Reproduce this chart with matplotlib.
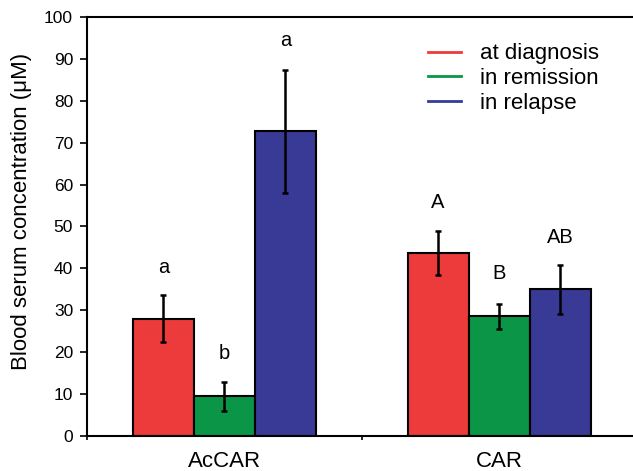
import matplotlib
matplotlib.use("Agg")
import matplotlib.pyplot as plt
import numpy as np
from matplotlib.lines import Line2D

plt.rcParams['font.family'] = ['Liberation Sans', 'DejaVu Sans']

groups = ["AcCAR", "CAR"]
series = ["at diagnosis", "in remission", "in relapse"]
values = {
    "at diagnosis": [28.0, 43.7],
    "in remission": [9.5, 28.6],
    "in relapse": [72.7, 35.0],
}
errors = {
    "at diagnosis": [5.6, 5.2],
    "in remission": [3.5, 3.0],
    "in relapse": [14.7, 5.8],
}
letters = {
    "at diagnosis": ["a", "A"],
    "in remission": ["b", "B"],
    "in relapse": ["a", "AB"],
}
letter_y = {
    "at diagnosis": [40.3, 55.8],
    "in remission": [19.8, 38.9],
    "in relapse": [94.5, 47.3],
}
colors = {"at diagnosis": "#EC3B3A", "in remission": "#0A9547", "in relapse": "#383A95"}

fig = plt.figure(figsize=(6.33, 4.71), dpi=100)
W, H = 633, 471
ax = fig.add_axes([87 / W, (H - 436) / H, 549.5 / W, (436 - 17) / H])

x = np.arange(len(groups))
bw = 0.222
for i, s in enumerate(series):
    xs = x + (i - 1) * bw
    ax.bar(xs, values[s], width=bw, color=colors[s], edgecolor="black", linewidth=1.5, zorder=2)
    ax.errorbar(xs, values[s], yerr=errors[s], fmt="none", ecolor="black", elinewidth=1.8,
                capsize=2.5, capthick=1.8, zorder=3)
    for xi, t, yy in zip(xs, letters[s], letter_y[s]):
        ax.text(xi, yy, t, ha="center", va="center", fontsize=14.5)

ax.set_xlim(-0.5, 1.5)
ax.set_ylim(0, 100)
ax.set_yticks(np.arange(0, 101, 10))
ax.tick_params(axis="y", labelsize=12.5, direction="out", length=5, width=1.2, pad=5)
ax.set_xticks([-0.5, 0.5, 1.5])
ax.set_xticklabels([])
ax.set_xticks(x, minor=True)
ax.set_xticklabels(groups, minor=True, fontsize=16)
ax.tick_params(axis="x", which="minor", length=0, pad=11)
ax.tick_params(axis="x", which="major", length=3, width=1.2, direction="out")
for sp in ["top", "bottom", "left"]:
    ax.spines[sp].set_linewidth(1.5)
ax.spines["right"].set_visible(False)
ax.set_ylabel("Blood serum concentration (\u03bcM)", fontsize=16, va="center", ha="center")
ax.yaxis.set_label_coords((22 - 87) / 549.5, (436 - 211) / 419)

handles = [Line2D([0], [0], color=colors[s], lw=2) for s in series]
ax.legend(handles, series, loc="upper left", bbox_to_anchor=(0.593, 0.974), frameon=False,
          fontsize=16, handlelength=1.45, handletextpad=0.85, labelspacing=0.16,
          borderpad=0.2)

fig.savefig("out.png", dpi=100)
